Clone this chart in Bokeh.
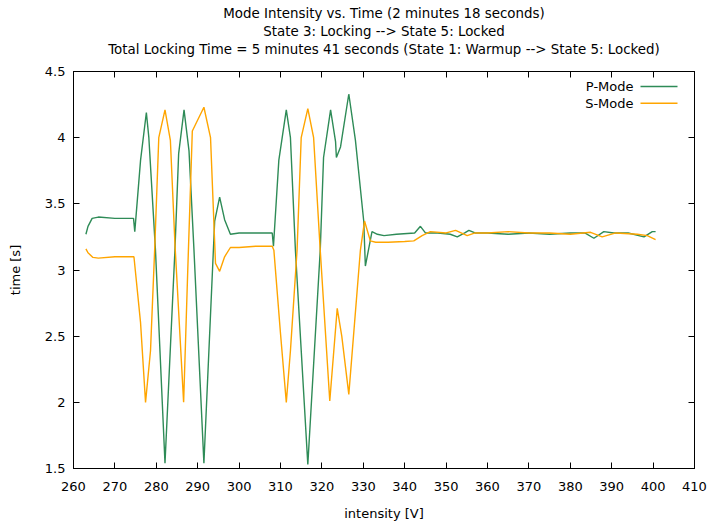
from bokeh.plotting import figure
from bokeh.models import (LinearAxis, Title, Label, BoxAnnotation, FixedTicker,
                          CustomJSTickFormatter)
from bokeh.embed import file_html
from bokeh.resources import INLINE

# ---------------- data ----------------
p_mode_x = [263.0, 263.5, 264.5, 266.0, 270.0, 274.5, 274.8, 276.2, 277.6, 278.2,
            279.8, 282.1, 284.5, 285.4, 286.7, 287.9, 289.1, 291.5, 294.1, 295.3,
            296.5, 297.9, 300.0, 304.0, 308.0, 308.3, 309.6, 311.4, 312.4, 313.6,
            316.6, 319.6, 320.4, 322.1, 323.3, 323.5, 324.5, 326.5, 328.1, 330.1,
            330.5, 332.1, 333.4, 335.0, 338.0, 342.4, 343.8, 345.0, 348.0, 351.0,
            352.7, 354.5, 355.5, 357.0, 360.0, 365.0, 370.0, 375.0, 380.0, 383.5,
            385.7, 388.1, 390.5, 394.0, 397.8, 399.8, 400.6]
p_mode_y = [3.27, 3.33, 3.39, 3.40, 3.39, 3.39, 3.29, 3.83, 4.19, 4.00,
            3.15, 1.54, 3.15, 3.88, 4.21, 3.90, 3.15, 1.54, 3.37, 3.55,
            3.38, 3.27, 3.28, 3.28, 3.28, 3.18, 3.83, 4.21, 4.00, 3.15,
            1.53, 3.15, 3.85, 4.21, 3.97, 3.85, 3.93, 4.33, 3.98, 3.37,
            3.03, 3.29, 3.27, 3.26, 3.27, 3.28, 3.33, 3.28, 3.28, 3.27,
            3.25, 3.28, 3.30, 3.28, 3.28, 3.27, 3.28, 3.27, 3.28, 3.28,
            3.24, 3.29, 3.28, 3.28, 3.25, 3.29, 3.29]

s_mode_x = [263.0, 263.5, 264.7, 266.0, 270.0, 274.6, 276.2, 277.4, 278.6, 279.6,
            280.6, 282.1, 283.4, 284.5, 286.6, 287.6, 288.7, 291.5, 293.1, 294.3,
            295.3, 296.5, 297.9, 300.0, 304.0, 308.0, 308.4, 310.0, 311.4, 312.4,
            314.0, 315.0, 316.6, 318.0, 319.5, 321.9, 323.7, 324.8, 326.5, 329.3,
            330.3, 331.7, 333.0, 336.0, 340.0, 342.2, 344.2, 346.2, 350.0, 352.3,
            355.1, 357.0, 360.0, 365.0, 370.0, 375.0, 380.0, 384.9, 387.7, 391.0,
            396.2, 398.6, 400.6]
s_mode_y = [3.16, 3.13, 3.095, 3.09, 3.10, 3.10, 2.60, 2.00, 2.39, 3.15,
            4.00, 4.21, 3.98, 3.20, 2.00, 3.00, 4.05, 4.23, 4.00, 3.05,
            2.99, 3.10, 3.17, 3.17, 3.18, 3.18, 3.15, 2.52, 2.00, 2.39,
            3.15, 4.00, 4.22, 4.00, 3.20, 2.01, 2.71, 2.50, 2.06, 3.15,
            3.37, 3.22, 3.21, 3.21, 3.215, 3.22, 3.26, 3.29, 3.28, 3.30,
            3.26, 3.28, 3.28, 3.29, 3.28, 3.28, 3.27, 3.285, 3.25, 3.28,
            3.27, 3.26, 3.23]

series_names = ["P-Mode", "S-Mode"]
series_colors = ["#2e8b57", "#ffa500"]

x_ticks = [260, 270, 280, 290, 300, 310, 320, 330, 340, 350, 360, 370, 380, 390, 400, 410]
y_ticks = [1.5, 2.0, 2.5, 3.0, 3.5, 4.0, 4.5]

title_lines = ["Mode Intensity vs. Time (2 minutes 18 seconds)",
               "State 3: Locking --> State 5: Locked",
               "Total Locking Time = 5 minutes 41 seconds (State 1: Warmup --> State 5: Locked)"]

FONT = "DejaVu Sans"
FS = "13px"
FRAME_H = 397

p = figure(width=712, height=523, x_range=(260, 410), y_range=(1.5, 4.5),
           output_backend="svg", toolbar_location=None,
           min_border_left=73, min_border_right=18, min_border_top=71,
           min_border_bottom=55)
p.xgrid.visible = False
p.ygrid.visible = False
p.outline_line_color = "black"
p.outline_line_width = 1

fmt = CustomJSTickFormatter(code="return tick.toString();")


def style_axis(ax, ticks, labels=True):
    ax.ticker = FixedTicker(ticks=ticks)
    ax.major_tick_in = 6
    ax.major_tick_out = 0
    ax.minor_tick_line_color = None
    ax.axis_line_color = "black"
    ax.major_tick_line_color = "black"
    ax.major_label_text_font = FONT
    ax.major_label_text_font_size = FS
    ax.major_label_text_color = "black"
    ax.axis_label_text_font = FONT
    ax.axis_label_text_font_size = FS
    ax.axis_label_text_font_style = "normal"
    ax.axis_label_text_color = "black"
    if not labels:
        ax.major_label_text_color = None
        ax.major_label_standoff = 0


xa = p.xaxis[0]
style_axis(xa, x_ticks)
xa.formatter = fmt
xa.major_label_standoff = 13
xa.axis_label = "intensity [V]"
xa.axis_label_standoff = 12

ya = p.yaxis[0]
style_axis(ya, y_ticks)
ya.formatter = fmt
ya.major_label_standoff = 8
ya.axis_label = "time [s]"
ya.axis_label_standoff = 19

top_ax = LinearAxis()
style_axis(top_ax, x_ticks, labels=False)
p.add_layout(top_ax, "above")

right_ax = LinearAxis()
style_axis(right_ax, y_ticks, labels=False)
p.add_layout(right_ax, "right")

# title block: last line gets an empty trailing line to leave room above the frame
title_texts = [title_lines[0], title_lines[1], title_lines[2] + "\n"]
title_standoffs = [0, 2, 0]
for line, so in reversed(list(zip(title_texts, title_standoffs))):
    p.add_layout(Title(text=line, align="center", text_font=FONT, text_font_size="13.4px",
                       text_font_style="normal", text_color="black", standoff=so),
                 "above")

xs_list = [p_mode_x, s_mode_x]
ys_list = [p_mode_y, s_mode_y]
for xs, ys, col in zip(xs_list, ys_list, series_colors):
    p.line(xs, ys, line_color=col, line_width=1.4)

# gnuplot-style key: text right-aligned, sample line to its right
for i, (name, col) in enumerate(zip(series_names, series_colors)):
    yc = FRAME_H - 15 - 16.7 * i
    p.add_layout(Label(x=560, y=yc, x_units="screen", y_units="screen", text=name,
                       text_align="right", text_baseline="middle", text_font=FONT,
                       text_font_size=FS, text_color="black"))
    p.add_layout(BoxAnnotation(left=567, right=604, top=yc + 0.75, bottom=yc - 0.75,
                               left_units="screen", right_units="screen",
                               top_units="screen", bottom_units="screen",
                               fill_color=col, fill_alpha=1.0, line_color=None))

open("out.html", "w").write(file_html(p, INLINE))
